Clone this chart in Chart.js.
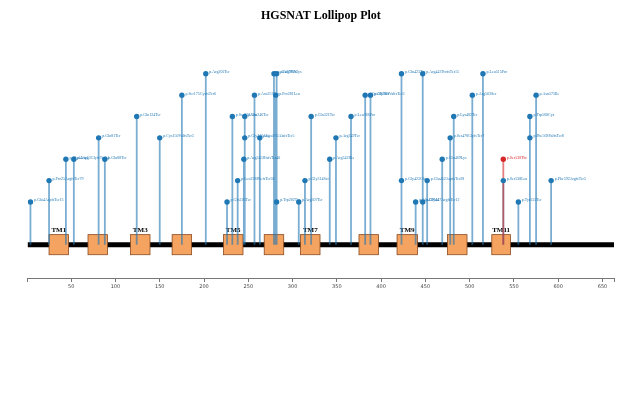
<!DOCTYPE html>
<html>
<head>
<meta charset="utf-8">
<script src="https://cdn.jsdelivr.net/npm/chart.js@4.4.1/dist/chart.umd.min.js"></script>
<style>
  html, body { margin: 0; padding: 0; background: #fff; }
</style>
</head>
<body>
<canvas id="lollipop" width="640" height="400"></canvas>
<script>
const proteinLength = 663;

// variant position (aa), stacking level, label
const variantPos = [4, 25, 44, 53, 81, 88, 124, 150, 175, 202, 226, 232, 238, 245, 246, 246, 257, 263, 279, 282,
    281, 282, 307, 314, 321, 342, 349, 366, 382, 388, 423, 423, 439, 447, 447, 452, 469, 478, 482, 503,
    515, 538, 538, 555, 568, 568, 575, 592];
const variantLevel = [1, 2, 3, 3, 4, 3, 5, 4, 6, 7, 1, 5, 2, 3, 5, 4, 6, 4, 7, 7,
    6, 1, 1, 2, 5, 3, 4, 5, 6, 6, 7, 2, 1, 7, 1, 2, 3, 4, 5, 6,
    7, 3, 2, 1, 4, 5, 6, 2];
const variantLabel = ['p.Glu4AspfsTer13', 'p.Pro25ArgfsTer79', 'p.Gly44Arg', 'p.Asp53GlyfsTer14', 'p.Gln81Ter',
    'p.Glu88Ter', 'p.Gln124Ter', 'p.Cys150ValfsTer5', 'p.Ser175CysfsTer6', 'p.Arg202Ter',
    'p.Gln226Ter', 'p.Ser232Asn', 'p.Leu238PhefsTer38', 'p.Arg245HisfsTer40', 'p.Gln246Ter',
    'p.Gly246Arg', 'p.Asn257Ser', 'p.Leu263AlafsTer5', 'p.Ala279Val', 'p.Arg282Cys',
    'p.Pro281Leu', 'p.Trp282Ter', 'p.Arg307Ter', 'p.Gly314Ser', 'p.Gln321Ter',
    'p.Arg342His', 'p.Arg349Ter', 'p.Leu366Pro', 'p.Cys382Ser', 'p.Gly388ValfsTer3',
    'p.Gln423Ter', 'p.Gly423Glu', 'p.Ala439Val', 'p.Arg447ProfsTer15', 'p.Gly447ArgfsTer12',
    'p.Glu452AspfsTer28', 'p.Glu469Lys', 'p.Ser478GlyfsTer7', 'p.Lys482Ter', 'p.Arg503Ser',
    'p.Leu515Pro', 'p.Ser538Thr', 'p.Ser538Leu', 'p.Tyr555Ter', 'p.Phe568ValfsTer8',
    'p.Trp568Cys', 'p.Asn575Ile', 'p.Phe592ArgfsTer5'];
const highlightLabel = 'p.Ser538Thr';

// transmembrane domains
const tmStart = [25, 69, 117, 164, 222, 268, 309, 375, 418, 475, 525];
const tmEnd = [47, 91, 139, 186, 244, 290, 331, 397, 441, 497, 546];
const tmLabel = ['TM1', '', 'TM3', '', 'TM5', '', 'TM7', '', 'TM9', '', 'TM11'];

const xTicks = [50, 100, 150, 200, 250, 300, 350, 400, 450, 500, 550, 600, 650];

const backboneY = -1;
const blue = '#1f77b4';
const red = '#d62728';

let dotPoints = [];
let dotColors = [];
let blueStems = [];
let redStems = [];
for (let i = 0; i < variantPos.length; i++) {
    let isRed = variantLabel[i] === highlightLabel;
    dotPoints.push({ x: variantPos[i], y: variantLevel[i] });
    dotColors.push(isRed ? red : blue);
    let stems = isRed ? redStems : blueStems;
    stems.push({ x: variantPos[i], y: backboneY }, { x: variantPos[i], y: variantLevel[i] }, { x: variantPos[i], y: null });
}

const domainPlugin = {
    id: 'domains',
    afterDatasetDraw(chart, args) {
        if (chart.data.datasets[args.index].label !== 'backbone') return;
        const ctx = chart.ctx;
        const xs = chart.scales.x;
        const ys = chart.scales.y;
        const top = ys.getPixelForValue(backboneY + 0.47);
        const bottom = ys.getPixelForValue(backboneY - 0.47);
        ctx.save();
        for (let i = 0; i < tmStart.length; i++) {
            let left = xs.getPixelForValue(tmStart[i]);
            let right = xs.getPixelForValue(tmEnd[i]);
            ctx.fillStyle = '#f4a460';
            ctx.fillRect(left, top, right - left, bottom - top);
            ctx.strokeStyle = '#8b4a1f';
            ctx.lineWidth = 0.8;
            ctx.strokeRect(left, top, right - left, bottom - top);
            if (tmLabel[i]) {
                ctx.fillStyle = '#000';
                ctx.font = 'bold 7px "Liberation Serif"';
                ctx.textAlign = 'center';
                ctx.textBaseline = 'bottom';
                ctx.fillText(tmLabel[i], (left + right) / 2, top - 1);
            }
        }
        ctx.restore();
    }
};

const labelPlugin = {
    id: 'variantLabels',
    afterDatasetsDraw(chart) {
        const ctx = chart.ctx;
        const meta = chart.getDatasetMeta(0);
        ctx.save();
        ctx.font = '4px "Liberation Serif"';
        ctx.textAlign = 'left';
        ctx.textBaseline = 'middle';
        meta.data.forEach((pt, i) => {
            ctx.fillStyle = dotColors[i];
            ctx.fillText(variantLabel[i], pt.x + 3.5, pt.y - 1.5);
        });
        ctx.restore();
    }
};

new Chart(document.getElementById('lollipop'), {
    type: 'scatter',
    data: {
        datasets: [
            {
                label: 'variants',
                data: dotPoints,
                pointRadius: 2.7,
                pointBackgroundColor: dotColors,
                pointBorderWidth: 0,
                showLine: false
            },
            {
                label: 'stemsRed',
                data: redStems,
                showLine: true,
                spanGaps: false,
                borderColor: 'rgba(214,39,40,0.6)',
                borderWidth: 1.8,
                pointRadius: 0
            },
            {
                label: 'stemsBlue',
                data: blueStems,
                showLine: true,
                spanGaps: false,
                borderColor: 'rgba(31,119,180,0.6)',
                borderWidth: 1.8,
                pointRadius: 0
            },
            {
                label: 'backbone',
                data: [{ x: 1, y: backboneY }, { x: proteinLength, y: backboneY }],
                showLine: true,
                borderColor: '#000',
                borderWidth: 5,
                borderCapStyle: 'round',
                pointRadius: 0
            }
        ]
    },
    options: {
        responsive: false,
        animation: false,
        layout: {
            padding: { left: 27.8, right: 26, top: 0, bottom: 108 }
        },
        plugins: {
            legend: { display: false },
            tooltip: { enabled: false },
            title: {
                display: true,
                text: 'HGSNAT Lollipop Plot',
                color: '#000',
                font: { family: '"Liberation Serif"', size: 12, weight: 'bold' },
                padding: { top: 9, bottom: 29 }
            }
        },
        scales: {
            x: {
                type: 'linear',
                min: 1,
                max: proteinLength,
                afterBuildTicks: function (scale) {
                    scale.ticks = [1].concat(xTicks, [proteinLength]).map(v => ({ value: v }));
                },
                ticks: {
                    autoSkip: false,
                    maxRotation: 0,
                    color: '#444',
                    padding: 2,
                    font: { family: '"DejaVu Sans"', size: 5 },
                    callback: function (value) {
                        return xTicks.includes(value) ? String(value) : '';
                    }
                },
                grid: {
                    drawOnChartArea: false,
                    drawTicks: true,
                    tickLength: 4,
                    color: '#777'
                },
                border: { display: true, color: '#777', width: 1 }
            },
            y: {
                display: false,
                min: -2.56,
                max: 8
            }
        }
    },
    plugins: [domainPlugin, labelPlugin]
});
</script>
</body>
</html>
